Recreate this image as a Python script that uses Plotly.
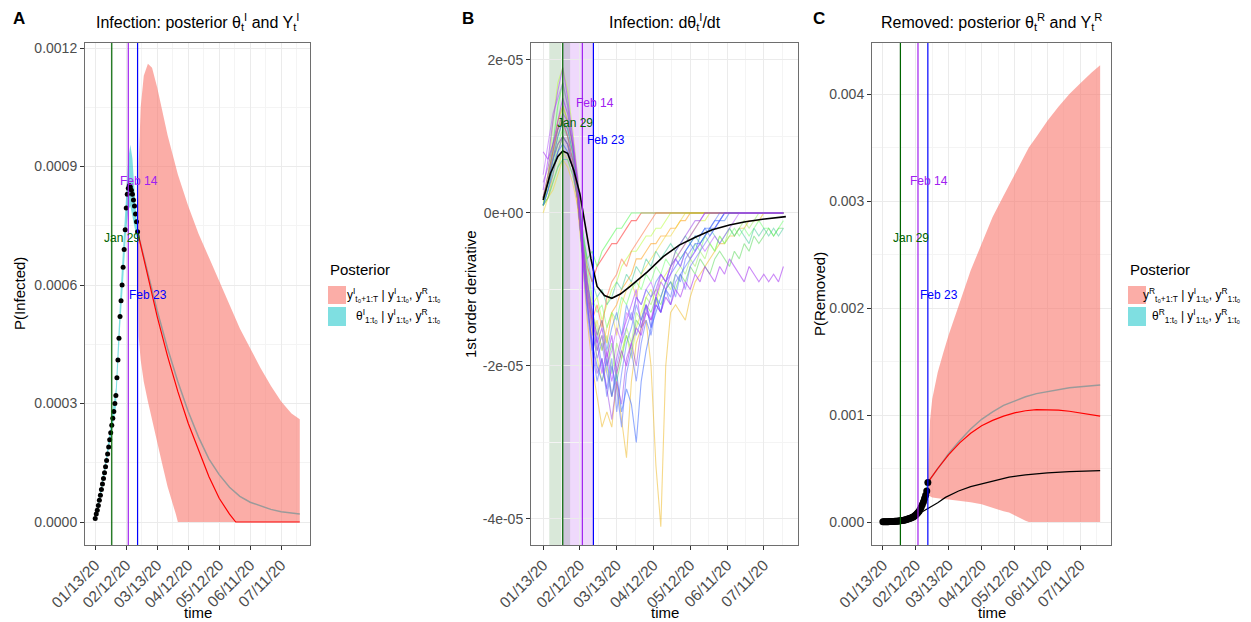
import pandas as pd
import plotly.graph_objects as go

W, H = 1251, 622
START = pd.Timestamp("2020-01-13")
FONT = "Liberation Sans, Arial, Helvetica, sans-serif"

# ------------------------------------------------------------------ data
# day offsets are counted from 2020-01-13
tick_labels = ["01/13/20", "02/12/20", "03/13/20", "04/12/20", "05/12/20", "06/11/20", "07/11/20"]
event_dates = ["2020-01-29", "2020-02-14", "2020-02-23"]
event_names = ["Jan 29", "Feb 14", "Feb 23"]
window_green = ["2020-01-18", "2020-02-04"]
window_purple = ["2020-01-29", "2020-02-23"]

# ---- panel A (values in 1e-3)
UNIT_A = 1e-3
obs_days = list(range(42))
obs_infected = [0.009, 0.02, 0.03, 0.042, 0.055, 0.068, 0.082, 0.096, 0.11, 0.125,
                0.14, 0.156, 0.172, 0.19, 0.208, 0.226, 0.245, 0.263, 0.28, 0.30,
                0.32, 0.365, 0.41, 0.465, 0.52, 0.56, 0.60, 0.645, 0.69, 0.74,
                0.795, 0.83, 0.845, 0.852, 0.848, 0.84, 0.83, 0.815, 0.80, 0.78,
                0.76, 0.735]
theta_I_days = [0, 5, 10, 15, 20, 24, 27, 30, 32, 34, 36, 38, 40, 41]
theta_I_lo = [0.005, 0.06, 0.13, 0.21, 0.29, 0.49, 0.61, 0.74, 0.79, 0.80, 0.78, 0.75, 0.72, 0.73]
theta_I_hi = [0.015, 0.08, 0.155, 0.245, 0.34, 0.56, 0.69, 0.85, 0.92, 0.955, 0.92, 0.84, 0.77, 0.74]
pred_I_days = [41, 42, 44, 47, 51, 55, 60, 65, 70, 75, 78, 80, 90, 100, 110, 120, 130, 140, 150, 160, 170, 180, 190, 198]
pred_I_hi = [0.735, 0.9, 1.05, 1.13, 1.16, 1.15, 1.10, 1.04, 0.98, 0.93, 0.90, 0.88, 0.80, 0.73,
             0.67, 0.61, 0.55, 0.49, 0.44, 0.39, 0.345, 0.305, 0.275, 0.26]
pred_I_lo = [0.735, 0.47, 0.41, 0.355, 0.305, 0.26, 0.2, 0.145, 0.09, 0.045, 0.02, 0.0, 0.0, 0.0,
             0.0, 0.0, 0.0, 0.0, 0.0, 0.0, 0.0, 0.0, 0.0, 0.0]
red_I_days = [41, 50, 60, 70, 80, 90, 100, 110, 120, 130, 136, 150, 170, 198]
red_I = [0.735, 0.63, 0.52, 0.42, 0.33, 0.25, 0.18, 0.115, 0.06, 0.02, 0.0, 0.0, 0.0, 0.0]
gray_I_days = [41, 50, 60, 70, 80, 90, 100, 110, 120, 130, 140, 150, 160, 170, 180, 190, 198]
gray_I = [0.735, 0.64, 0.535, 0.44, 0.355, 0.28, 0.215, 0.16, 0.12, 0.088, 0.065, 0.05, 0.04,
          0.032, 0.026, 0.022, 0.02]

# ---- panel B (values in 1e-6)
UNIT_B = 1e-6
mean_days = [0, 6, 12, 16, 20, 25, 30, 35, 39, 44, 50, 56, 63, 71, 78, 85, 98, 111, 125, 138, 152, 165, 179, 198]
mean_deriv = [1.7, 5.2, 7.4, 8.1, 7.8, 5.6, 2.5, -2.0, -6.0, -9.6, -10.8, -11.15, -10.6, -9.6, -8.6,
              -7.7, -5.7, -4.2, -3.1, -2.2, -1.57, -1.14, -0.82, -0.48]
traj_days = list(range(0, 200, 4))
traj_red = [2, 4, 7, 9, 10, 9, 6, 2, -3, -7,
            -9, -7, -6, -5, -4, -4, -3, -2, -1, -1,
            0, 0, 0, 0, 0, 0, 0, 0, 0, 0,
            0, 0, 0, 0, 0, 0, 0, 0, 0, 0,
            0, 0, 0, 0, 0, 0, 0, 0, 0, 0]
traj_orange = [1, 4, 8, 12, 14, 12, 9, 4, -3, -9,
               -13, -16, -14, -17, -13, -12, -10, -9, -8, -6,
               -6, -5, -4, -4, -3, -3, -2, -2, -1, -1,
               0, 0, 0, 0, 0, 0, 0, 0, 0, 0,
               0, 0, 0, 0, 0, 0, 0, 0, 0, 0]
traj_gold = [1, 2, 5, 8, 10, 9, 6, 1, -6, -14,
             -20, -24, -28, -26, -28, -22, -27, -32, -22, -17,
             -15, -14, -20, -33, -41, -20, -13, -12, -13, -14,
             -11, -9, -8, -7, -6, -5, -4, -4, -3, -3,
             -2, -2, -1, -1, -1, 0, 0, 0, 0, 0]
traj_blue = [1, 3, 6, 8, 9, 8, 6, 2, -5, -12,
             -17, -20, -22, -19, -24, -21, -26, -23, -25, -30,
             -22, -18, -15, -13, -11, -9, -8, -7, -6, -5,
             -4, -3, -3, -2, -2, -1, -1, 0, 0, 0,
             0, 0, 0, 0, 0, 0, 0, 0, 0, 0]
traj_blue2 = [2, 4, 7, 10, 12, 11, 8, 3, -6, -13,
              -18, -16, -20, -23, -19, -26, -21, -17, -15, -12,
              -14, -12, -15, -11, -13, -10, -9, -11, -8, -7,
              -6, -5, -4, -3, -2, -1, 0, 0, 0, 0,
              0, 0, 0, 0, 0, 0, 0, 0, 0, 0]
traj_blue4 = [2, 5, 8, 11, 12, 10, 7, 2, -5, -12,
              -18, -22, -19, -24, -20, -23, -28, -21, -18, -22,
              -17, -14, -16, -12, -13, -10, -11, -8, -9, -6,
              -5, -4, -4, -3, -2, -2, -1, 0, 0, 0,
              0, 0, 0, 0, 0, 0, 0, 0, 0, 0]
traj_purple = [8, 7, 9, 12, 15, 13, 9, 4, -4, -10,
               -14, -17, -15, -19, -16, -21, -18, -20, -17, -15,
               -16, -13, -14, -12, -13, -11, -12, -10, -11, -9,
               -10, -8, -9, -7, -8, -9, -7, -8, -6, -7,
               -8, -9, -7, -8, -9, -8, -9, -8, -9, -7]
traj_purple2 = [3, 7, 12, 16, 19, 15, 10, 5, -3, -9,
                -13, -17, -21, -18, -22, -19, -16, -14, -12, -10,
                -15, -12, -14, -11, -9, -10, -8, -6, -5, -4,
                -3, -2, -1, 0, 0, 0, 0, 0, 0, 0,
                0, 0, 0, 0, 0, 0, 0, 0, 0, 0]
traj_purple3 = [5, 9, 13, 15, 17, 14, 10, 4, -5, -11,
                -15, -18, -16, -20, -18, -15, -17, -13, -14, -11,
                -12, -10, -9, -11, -8, -9, -7, -6, -7, -5,
                -6, -5, -4, -5, -4, -3, -4, -3, -2, -1,
                0, 0, 0, 0, 0, 0, 0, 0, 0, 0]
traj_lime = [1, 5, 12, 17, 19, 16, 11, 5, -2, -8,
             -12, -11, -14, -12, -10, -9, -7, -6, -5, -5,
             -4, -3, -3, -2, -2, -1, 0, 0, 0, 0,
             0, 0, 0, 0, 0, 0, 0, 0, 0, 0,
             0, 0, 0, 0, 0, 0, 0, 0, 0, 0]
traj_lightgreen = [1, 3, 6, 9, 11, 10, 8, 4, -2, -7,
                   -11, -13, -12, -15, -13, -14, -11, -12, -10, -9,
                   -10, -8, -9, -7, -8, -6, -7, -5, -6, -5,
                   -6, -4, -5, -3, -4, -5, -3, -4, -3, -2,
                   -3, -2, -3, -2, -1, -2, -2, -3, -2, -1]
traj_green = [2, 4, 7, 10, 12, 11, 8, 3, -4, -10,
              -14, -18, -16, -20, -17, -22, -19, -16, -18, -14,
              -15, -12, -13, -11, -12, -10, -9, -10, -8, -9,
              -7, -8, -6, -7, -8, -6, -5, -6, -7, -5,
              -6, -4, -5, -3, -4, -3, -2, -3, -2, -2]
traj_green3 = [1, 3, 7, 11, 14, 12, 8, 3, -3, -9,
               -13, -15, -18, -16, -21, -17, -19, -15, -17, -13,
               -14, -11, -12, -10, -11, -9, -10, -8, -7, -8,
               -6, -7, -5, -6, -4, -5, -3, -4, -2, -3,
               -2, -1, -2, -1, 0, 0, 0, 0, 0, 0]
traj_yellowlime = [1, 2, 4, 6, 8, 7, 5, 2, -3, -9,
                   -15, -19, -22, -20, -24, -21, -18, -16, -19, -15,
                   -13, -11, -10, -12, -9, -8, -7, -6, -5, -4,
                   -3, -2, -1, -1, 0, 0, 0, 0, 0, 0,
                   0, 0, 0, 0, 0, 0, 0, 0, 0, 0]
traj_yellow = [0, 2, 3, 5, 7, 6, 4, 1, -4, -11,
               -16, -14, -18, -15, -13, -16, -12, -10, -9, -11,
               -8, -7, -6, -5, -4, -3, -3, -2, -1, 0,
               0, 0, 0, 0, 0, 0, 0, 0, 0, 0,
               0, 0, 0, 0, 0, 0, 0, 0, 0, 0]
traj_slate = [2, 4, 7, 9, 10, 9, 6, 2, -5, -11,
              -15, -19, -17, -21, -24, -20, -17, -15, -13, -16,
              -14, -12, -15, -11, -13, -10, -12, -9, -8, -10,
              -7, -6, -5, -4, -3, -2, -1, 0, 0, 0,
              0, 0, 0, 0, 0, 0, 0, 0, 0, 0]
traj_blue3 = [1, 3, 5, 8, 10, 9, 7, 3, -3, -9,
              -13, -16, -14, -18, -15, -13, -16, -12, -14, -11,
              -12, -10, -11, -9, -8, -9, -7, -6, -7, -5,
              -4, -5, -3, -2, -3, -2, -1, -1, 0, 0,
              0, 0, 0, 0, 0, 0, 0, 0, 0, 0]
traj_orangered = [2, 5, 8, 11, 12, 10, 7, 2, -5, -11,
                  -14, -12, -15, -11, -9, -8, -6, -7, -5, -4,
                  -3, -2, -1, 0, 0, 0, 0, 0, 0, 0,
                  0, 0, 0, 0, 0, 0, 0, 0, 0, 0,
                  0, 0, 0, 0, 0, 0, 0, 0, 0, 0]
traj_violet = [4, 6, 9, 11, 13, 12, 9, 4, -4, -12,
               -17, -21, -19, -23, -27, -22, -25, -19, -17, -20,
               -15, -13, -11, -10, -8, -9, -7, -5, -4, -3,
               -2, -1, -1, 0, 0, 0, 0, 0, 0, 0,
               0, 0, 0, 0, 0, 0, 0, 0, 0, 0]
traj_teal = [1, 2, 4, 6, 7, 7, 5, 2, -2, -6,
             -9, -11, -10, -12, -11, -9, -10, -8, -9, -7,
             -8, -6, -7, -5, -6, -5, -4, -5, -4, -3,
             -4, -3, -4, -3, -2, -3, -4, -3, -2, -3,
             -2, -3, -4, -2, -3, -2, -3, -2, -3, -2]
traj_brightgreen = [1, 4, 9, 14, 17, 14, 9, 3, -3, -6,
                    -5, -7, -5, -4, -3, -2, -2, -1, 0, 0,
                    0, 0, 0, 0, 0, 0, 0, 0, 0, 0,
                    0, 0, 0, 0, 0, 0, 0, 0, 0, 0,
                    0, 0, 0, 0, 0, 0, 0, 0, 0, 0]

# ---- panel C (values in 1e-3)
UNIT_C = 1e-3
obs_removed = [0.002, 0.002, 0.002, 0.003, 0.003, 0.003, 0.004, 0.004, 0.004, 0.005,
               0.005, 0.006, 0.007, 0.008, 0.009, 0.01, 0.011, 0.013, 0.015, 0.017,
               0.019, 0.022, 0.025, 0.028, 0.032, 0.036, 0.04, 0.045, 0.05, 0.058,
               0.066, 0.076, 0.088, 0.1, 0.118, 0.14, 0.163, 0.19, 0.22, 0.25,
               0.29, 0.37]
theta_R_days = [20, 30, 35, 38, 41]
theta_R_lo = [0.015, 0.055, 0.12, 0.19, 0.3]
theta_R_hi = [0.025, 0.08, 0.16, 0.26, 0.4]
pred_R_days = [41, 42, 43, 45, 50, 55, 60, 70, 80, 90, 100, 110, 115, 120, 125, 130, 133, 140,
               150, 160, 170, 180, 190, 198]
pred_R_hi = [0.37, 0.7, 0.95, 1.15, 1.4, 1.58, 1.75, 2.05, 2.35, 2.6, 2.85, 3.05, 3.15, 3.25,
             3.35, 3.45, 3.5, 3.6, 3.75, 3.88, 4.0, 4.1, 4.2, 4.27]
pred_R_lo = [0.37, 0.25, 0.24, 0.23, 0.22, 0.215, 0.21, 0.2, 0.185, 0.165, 0.135, 0.1, 0.088,
             0.06, 0.035, 0.012, 0.0, 0.0, 0.0, 0.0, 0.0, 0.0, 0.0, 0.0]
line_R_days = [41, 50, 60, 70, 80, 90, 100, 110, 120, 130, 140, 150, 160, 170, 180, 190, 198]
red_R = [0.37, 0.5, 0.63, 0.74, 0.83, 0.9, 0.95, 0.99, 1.02, 1.04, 1.05, 1.05, 1.045, 1.035,
         1.02, 1.005, 0.99]
gray_R = [0.37, 0.5, 0.64, 0.76, 0.87, 0.96, 1.03, 1.09, 1.13, 1.17, 1.2, 1.22, 1.24, 1.255,
          1.265, 1.275, 1.28]
black_R_days = [20, 25, 30, 35, 42, 50, 57, 69, 80, 100, 115, 130, 150, 170, 198]
black_R = [0.015, 0.03, 0.06, 0.09, 0.13, 0.18, 0.23, 0.29, 0.33, 0.38, 0.42, 0.44, 0.46, 0.47, 0.48]

# ------------------------------------------------------------------ helpers
def dates(days):
    return list(START + pd.to_timedelta(list(days), unit="D"))


def scaled(vals, unit):
    return [v * unit for v in vals]


def px(x):
    return x / W


def py(y):
    return 1 - y / H


PINK = "rgba(248,118,109,0.6)"
TEAL = "rgba(0,191,196,0.5)"
EV_COLORS = ["#006400", "#A020F0", "#0000FF"]

fig = go.Figure()


def add_band(days, lo, hi, unit, color, xa, ya):
    x = dates(days) + dates(days[::-1])
    y = scaled(hi, unit) + scaled(lo[::-1], unit)
    fig.add_trace(go.Scatter(x=x, y=y, fill="toself", fillcolor=color, mode="lines",
                             line=dict(width=0), hoverinfo="skip", showlegend=False,
                             xaxis=xa, yaxis=ya))


def add_line(days, vals, unit, color, width, xa, ya):
    fig.add_trace(go.Scatter(x=dates(days), y=scaled(vals, unit), mode="lines",
                             line=dict(color=color, width=width), showlegend=False,
                             xaxis=xa, yaxis=ya))


# ---- panel A
add_band(pred_I_days, pred_I_lo, pred_I_hi, UNIT_A, PINK, "x", "y")
add_band(theta_I_days, theta_I_lo, theta_I_hi, UNIT_A, TEAL, "x", "y")
add_line(gray_I_days, gray_I, UNIT_A, "#9A9A9A", 1.5, "x", "y")
add_line(red_I_days, red_I, UNIT_A, "#FF0000", 1.2, "x", "y")
fig.add_trace(go.Scatter(x=dates(obs_days), y=scaled(obs_infected, UNIT_A), mode="markers",
                         marker=dict(color="black", size=5), showlegend=False,
                         xaxis="x", yaxis="y"))

# ---- panel B
trajectories = [
    (traj_red, "rgba(255,40,40,0.55)"),
    (traj_orange, "rgba(255,150,0,0.5)"),
    (traj_gold, "rgba(238,185,40,0.55)"),
    (traj_yellow, "rgba(240,215,60,0.55)"),
    (traj_yellowlime, "rgba(215,240,60,0.55)"),
    (traj_lime, "rgba(185,255,60,0.55)"),
    (traj_lightgreen, "rgba(120,255,120,0.55)"),
    (traj_brightgreen, "rgba(60,250,60,0.5)"),
    (traj_green, "rgba(80,215,80,0.5)"),
    (traj_green3, "rgba(150,240,90,0.5)"),
    (traj_teal, "rgba(60,200,150,0.5)"),
    (traj_blue3, "rgba(60,120,240,0.5)"),
    (traj_blue, "rgba(40,90,255,0.5)"),
    (traj_blue2, "rgba(80,110,255,0.5)"),
    (traj_blue4, "rgba(70,100,255,0.5)"),
    (traj_slate, "rgba(100,100,255,0.5)"),
    (traj_orangered, "rgba(255,100,50,0.5)"),
    (traj_violet, "rgba(150,60,230,0.5)"),
    (traj_purple3, "rgba(180,80,255,0.5)"),
    (traj_purple2, "rgba(170,60,255,0.55)"),
    (traj_purple, "rgba(160,40,240,0.55)"),
]
for vals, col in trajectories:
    add_line(traj_days, vals, UNIT_B, col, 1.1, "x2", "y2")
add_line(mean_days, mean_deriv, UNIT_B, "black", 1.6, "x2", "y2")

# ---- panel C
add_band(pred_R_days, pred_R_lo, pred_R_hi, UNIT_C, PINK, "x3", "y3")
add_band(theta_R_days, theta_R_lo, theta_R_hi, UNIT_C, TEAL, "x3", "y3")
add_line(line_R_days, gray_R, UNIT_C, "#9A9A9A", 1.5, "x3", "y3")
add_line(line_R_days, red_R, UNIT_C, "#FF0000", 1.2, "x3", "y3")
add_line(black_R_days, black_R, UNIT_C, "black", 1.2, "x3", "y3")
fig.add_trace(go.Scatter(x=dates(obs_days), y=scaled(obs_removed, UNIT_C), mode="markers",
                         marker=dict(color="black", size=7), showlegend=False,
                         xaxis="x3", yaxis="y3"))

# ------------------------------------------------------------------ axes
tickvals = list(pd.to_datetime(tick_labels, format="%m/%d/%y"))
minor_x = [t + pd.Timedelta(days=15) for t in tickvals]
xrange_ = [START - pd.Timedelta(days=9.9), START + pd.Timedelta(days=207.9)]

GRID = "#EBEBEB"
MINOR = "#F4F4F4"
common_axis = dict(showline=True, mirror=True, linecolor="#6E6E6E", linewidth=1,
                   ticks="outside", ticklen=4, tickcolor="#333333", tickwidth=1,
                   showgrid=True, gridcolor=GRID, gridwidth=1, zeroline=False,
                   automargin=False, tickfont=dict(family=FONT, size=14, color="#4D4D4D"))


def xaxis(domain, anchor):
    return dict(common_axis, type="date", domain=domain, anchor=anchor, range=xrange_,
                tickmode="array", tickvals=tickvals, ticktext=tick_labels, tickangle=-45,
                tickfont=dict(family=FONT, size=15.5, color="#4D4D4D"),
                minor=dict(tickmode="array", tickvals=minor_x, showgrid=True,
                           gridcolor=MINOR, gridwidth=0.8, ticks=""))


def yaxis(anchor, rng, tv, tt, mv):
    return dict(common_axis, domain=[py(545), py(43)], anchor=anchor, range=rng,
                tickmode="array", tickvals=tv, ticktext=tt,
                minor=dict(tickmode="array", tickvals=mv, showgrid=True,
                           gridcolor=MINOR, gridwidth=0.8, ticks=""))


fig.update_layout(
    width=W, height=H, margin=dict(l=0, r=0, t=0, b=0),
    paper_bgcolor="white", plot_bgcolor="white", showlegend=False,
    font=dict(family=FONT, color="black"),
    xaxis=xaxis([px(85), px(310)], "y"),
    xaxis2=xaxis([px(531), px(798)], "y2"),
    xaxis3=xaxis([px(872), px(1111)], "y3"),
    yaxis=yaxis("x", [-0.0000582, 0.0012127], [0, 0.0003, 0.0006, 0.0009, 0.0012],
                ["0.0000", "0.0003", "0.0006", "0.0009", "0.0012"],
                [0.00015, 0.00045, 0.00075, 0.00105]),
    yaxis2=yaxis("x2", [-4.34e-5, 2.222e-5], [-4e-5, -2e-5, 0, 2e-5],
                 ["-4e-05", "-2e-05", "0e+00", "2e-05"], [-3e-5, -1e-5, 1e-5]),
    yaxis3=yaxis("x3", [-0.000215, 0.004477], [0, 0.001, 0.002, 0.003, 0.004],
                 ["0.000", "0.001", "0.002", "0.003", "0.004"],
                 [0.0005, 0.0015, 0.0025, 0.0035]),
)

# ------------------------------------------------------------------ shapes / labels
shapes = []
annotations = []


def note(x, y, text, size, color="black", xanchor="center", **kw):
    annotations.append(dict(xref="paper", yref="paper", x=px(x), y=py(y), text=text,
                            xanchor=xanchor, yanchor="middle", showarrow=False,
                            font=dict(family=FONT, size=size, color=color), **kw))


# shaded windows in panel B
shapes.append(dict(type="rect", xref="x2", yref="y2 domain", x0=window_green[0], x1=window_green[1],
                   y0=0, y1=1, fillcolor="rgba(0,100,0,0.15)", line=dict(width=0), layer="below"))
shapes.append(dict(type="rect", xref="x2", yref="y2 domain", x0=window_purple[0], x1=window_purple[1],
                   y0=0, y1=1, fillcolor="rgba(160,32,240,0.17)", line=dict(width=0), layer="below"))

label_y_AC = [0.612, 0.725, 0.498]
label_y_B = [0.8406, 0.8805, 0.8068]
for xa, ya_dom, ly in [("x", "y domain", label_y_AC), ("x2", "y2 domain", label_y_B),
                       ("x3", "y3 domain", label_y_AC)]:
    for d, name, col, yy in zip(event_dates, event_names, EV_COLORS, ly):
        shapes.append(dict(type="line", xref=xa, yref=ya_dom, x0=d, x1=d, y0=0, y1=1,
                           line=dict(color=col, width=1.2), layer="above"))
        annotations.append(dict(xref=xa, yref=ya_dom,
                                x=pd.Timestamp(d) + pd.Timedelta(days=10), y=yy,
                                xanchor="center", yanchor="middle",
                                text=name, showarrow=False,
                                font=dict(family=FONT, size=12, color=col)))

# titles, panel letters, axis titles
panel_titles = [
    (197.5, "Infection: posterior θ<sub>t</sub><sup>I</sup> and Y<sub>t</sub><sup>I</sup>"),
    (664.5, "Infection: dθ<sub>t</sub><sup>I</sup>/dt"),
    (991.5, "Removed: posterior θ<sub>t</sub><sup>R</sup> and Y<sub>t</sub><sup>R</sup>"),
]
for cx, t in panel_titles:
    note(cx, 22, t, 16)
    note(cx, 612, "time", 15)
for lx, letter in [(19, "A"), (468, "B"), (819, "C")]:
    note(lx, 18, "<b>%s</b>" % letter, 17)
for lx, t in [(20, "P(Infected)"), (471, "1st order derivative"), (820, "P(Removed)")]:
    note(lx, 294, t, 15, textangle=-90)

# legends
for lx, lab in [(328, "I"), (1128, "R")]:
    note(lx, 269, "Posterior", 15, xanchor="left")
    shapes.append(dict(type="rect", xref="paper", yref="paper", x0=px(lx), x1=px(lx + 18),
                       y0=py(304), y1=py(286), fillcolor=PINK, line=dict(width=0)))
    shapes.append(dict(type="rect", xref="paper", yref="paper", x0=px(lx), x1=px(lx + 18),
                       y0=py(326), y1=py(307), fillcolor=TEAL, line=dict(width=0)))
    cond = "y<sup>I</sup><sub>1:t₀</sub>, y<sup>R</sup><sub>1:t₀</sub>"
    note(lx + 115, 295, "y<sup>%s</sup><sub>t₀+1:T</sub> | %s" % (lab, cond), 12, xanchor="right")
    note(lx + 115, 316, "θ<sup>%s</sup><sub>1:t₀</sub> | %s" % (lab, cond), 12, xanchor="right")

fig.update_layout(shapes=shapes, annotations=annotations)
fig.write_html("out.html", config={"displayModeBar": False},
               post_script="document.body.style.margin='0';")
